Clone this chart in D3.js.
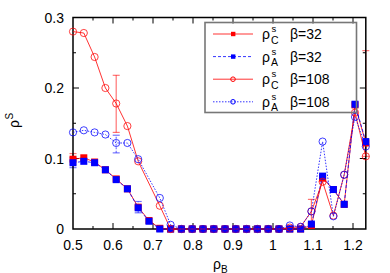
<!DOCTYPE html>
<html><head><meta charset="utf-8">
<script src="https://cdn.jsdelivr.net/npm/d3@7"></script>
<style>html,body{margin:0;padding:0;background:#fff;}svg{display:block;font-family:"Liberation Sans",Arial,sans-serif;}</style>
</head><body>
<svg id="c" width="390" height="273"></svg>
<script>
// ---- data ----
const xs32 = [0.5,0.527,0.554,0.581,0.608,0.636,0.663,0.690,0.717,0.744,0.771,0.798,0.825,0.852,0.880,0.907,0.934,0.961,0.988,1.015,1.042,1.069,1.096,1.124,1.151,1.178,1.205,1.232];
const rhoC32 = [0.099,0.101,0.095,0.084,0.071,0.057,0.031,0.012,0.001,0,0,0,0,0,0,0,0,0,0,0,0,0,0.005,0.072,0.056,0.035,0.176,0.122];
const rhoA32 = [0.094,0.096,0.094,0.084,0.070,0.057,0.030,0.011,0,0,0,0,0,0,0,0,0,0,0,0,0,0,0.007,0.075,0.056,0.035,0.177,0.124];
const xs108 = [0.5,0.527,0.554,0.581,0.608,0.636,0.663,0.717,0.744,0.771,0.798,0.825,0.852,0.880,0.907,0.934,0.961,0.988,1.015,1.042,1.069,1.096,1.124,1.151,1.178,1.205,1.232];
const rhoC108 = [0.280,0.278,0.244,0.200,0.178,0.146,0.096,0.033,0,0,0,0,0,0,0,0,0,0,0,0.002,0.003,0.025,0.067,0.019,0.077,0.165,0.103];
const rhoA108 = [0.137,0.140,0.137,0.134,0.122,0.122,0.099,0.044,0.006,0,0,0,0,0,0,0,0,0,0,0.005,0.003,0.025,0.124,0.018,0.077,0.159,0.117];
// error bars
const errSeries = ["C32","A32","C108","A108","A32","C108","C108"];
const errX  = [0.5,0.5,0.608,0.608,0.663,1.096,1.232];
const errLo = [0.092,0.087,0.137,0.108,0.023,0.008,0.103];
const errHi = [0.107,0.101,0.218,0.133,0.039,0.042,0.253];
const xTicks = [0.5,0.6,0.7,0.8,0.9,1,1.1,1.2];
const xTickLabels = ["0.5","0.6","0.7","0.8","0.9","1","1.1","1.2"];
const yTicks = [0,0.1,0.2,0.3];
const yTickLabels = ["0","0.1","0.2","0.3"];
const legendSub = ["C","A","C","A"];
const legendBeta = ["β=32","β=32","β=108","β=108"];

// ---- chart ----
const svg = d3.select("#c");
const L=73, R=365.8, T=17.5, B=229;
const x = d3.scaleLinear().domain([0.5,1.232]).range([L,R]);
const y = d3.scaleLinear().domain([0,0.3]).range([B,T]);

const RED="#ff0000", BLUE="#0000ff";
const series = [
  {key:"C32", xs:xs32, ys:rhoC32, color:RED, dash:null, marker:"square"},
  {key:"A32", xs:xs32, ys:rhoA32, color:BLUE, dash:"3,2", marker:"square"},
  {key:"C108", xs:xs108, ys:rhoC108, color:RED, dash:null, marker:"circle"},
  {key:"A108", xs:xs108, ys:rhoA108, color:BLUE, dash:"1.5,1.5", marker:"circle"}
];

// error bars (under the frame)
errX.forEach((v,i)=>{
  const s = series.find(d=>d.key===errSeries[i]);
  const g = svg.append("g").attr("stroke",s.color).attr("stroke-opacity",0.55).attr("stroke-width",1.2);
  const vl = g.append("line").attr("x1",x(v)).attr("x2",x(v)).attr("y1",y(errLo[i])).attr("y2",y(errHi[i]));
  if(s.key.startsWith("A")) vl.attr("stroke-dasharray","2,1.5");
  g.append("line").attr("x1",x(v)-3.5).attr("x2",x(v)+3.5).attr("y1",y(errLo[i])).attr("y2",y(errLo[i]));
  g.append("line").attr("x1",x(v)-3.5).attr("x2",x(v)+3.5).attr("y1",y(errHi[i])).attr("y2",y(errHi[i]));
});

// border
svg.append("rect").attr("x",L).attr("y",T).attr("width",R-L).attr("height",B-T)
  .attr("fill","none").attr("stroke","#000").attr("stroke-width",1.5);

// ticks
const xMinor = d3.range(0.55,1.23,0.1);
const yMinor = [0.05,0.15,0.25];
const tg = svg.append("g").attr("stroke","#000").attr("stroke-width",1);
xTicks.forEach(v=>{ if(v===0.5) return;
  tg.append("line").attr("x1",x(v)).attr("x2",x(v)).attr("y1",B).attr("y2",B-6);
  tg.append("line").attr("x1",x(v)).attr("x2",x(v)).attr("y1",T).attr("y2",T+6);});
xMinor.forEach(v=>{
  tg.append("line").attr("x1",x(v)).attr("x2",x(v)).attr("y1",B).attr("y2",B-3);
  tg.append("line").attr("x1",x(v)).attr("x2",x(v)).attr("y1",T).attr("y2",T+3);});
yTicks.forEach(v=>{ if(v===0||v===0.3) return;
  tg.append("line").attr("x1",L).attr("x2",L+6).attr("y1",y(v)).attr("y2",y(v));
  tg.append("line").attr("x1",R).attr("x2",R-6).attr("y1",y(v)).attr("y2",y(v));});
yMinor.forEach(v=>{
  tg.append("line").attr("x1",L).attr("x2",L+3).attr("y1",y(v)).attr("y2",y(v));
  tg.append("line").attr("x1",R).attr("x2",R-3).attr("y1",y(v)).attr("y2",y(v));});

// tick labels
xTicks.forEach((v,i)=>svg.append("text").attr("x",x(v)).attr("y",250).attr("text-anchor","middle")
  .attr("font-size",14).text(xTickLabels[i]));
yTicks.forEach((v,i)=>svg.append("text").attr("x",64).attr("y",y(v)+5).attr("text-anchor","end")
  .attr("font-size",14).text(yTickLabels[i]));

// axis labels
const xl = svg.append("text").attr("x",213).attr("y",268.5).attr("font-size",14);
xl.append("tspan").text("ρ");
xl.append("tspan").attr("font-size",10).attr("dy",4).text("B");
const yl = svg.append("g").attr("transform","translate(19,128) rotate(-90)");
yl.append("text").attr("x",0).attr("y",0).attr("font-size",14).text("ρ");
yl.append("text").attr("x",8.5).attr("y",-6).attr("font-size",10).text("S");

// series
const line = d3.line().x(d=>x(d[0])).y(d=>y(d[1]));
series.forEach(s=>{
  const pts = s.xs.map((v,i)=>[v,s.ys[i]]);
  const g = svg.append("g");
  g.append("path").attr("d",line(pts)).attr("fill","none").attr("stroke",s.color)
    .attr("stroke-opacity",0.8).attr("stroke-width",1).attr("stroke-dasharray",s.dash);
  if(s.marker==="square"){
    g.selectAll("rect").data(pts).join("rect").attr("x",d=>x(d[0])-3.5).attr("y",d=>y(d[1])-3.5)
      .attr("width",7).attr("height",7).attr("fill",s.color);
  } else {
    g.selectAll("circle").data(pts).join("circle").attr("cx",d=>x(d[0])).attr("cy",d=>y(d[1]))
      .attr("r",3.6).attr("fill","none").attr("stroke",s.color).attr("stroke-opacity",0.75).attr("stroke-width",1);
  }
});

// legend
svg.append("rect").attr("x",205).attr("y",22.5).attr("width",151.5).attr("height",90)
  .attr("fill","none").attr("stroke","#777").attr("stroke-width",1.6);
series.forEach((s,i)=>{
  const cy = 34 + i*22.6, base = cy+5;
  svg.append("line").attr("x1",213).attr("x2",253).attr("y1",cy).attr("y2",cy)
    .attr("stroke",s.color).attr("stroke-opacity",0.8).attr("stroke-width",1).attr("stroke-dasharray",s.dash);
  if(s.marker==="square") svg.append("rect").attr("x",231).attr("y",cy-2.2).attr("width",4.4).attr("height",4.4).attr("fill",s.color);
  else svg.append("circle").attr("cx",233).attr("cy",cy).attr("r",2.3).attr("fill","none").attr("stroke",s.color).attr("stroke-width",1);
  svg.append("text").attr("x",262).attr("y",base).attr("font-size",14).text("ρ");
  svg.append("text").attr("x",271.5).attr("y",base-7).attr("font-size",9.5).text("s");
  svg.append("text").attr("x",271).attr("y",base+4.5).attr("font-size",10.5).text(legendSub[i]);
  svg.append("text").attr("x",290).attr("y",base).attr("font-size",14).text(legendBeta[i]);
});
</script>
</body></html>
